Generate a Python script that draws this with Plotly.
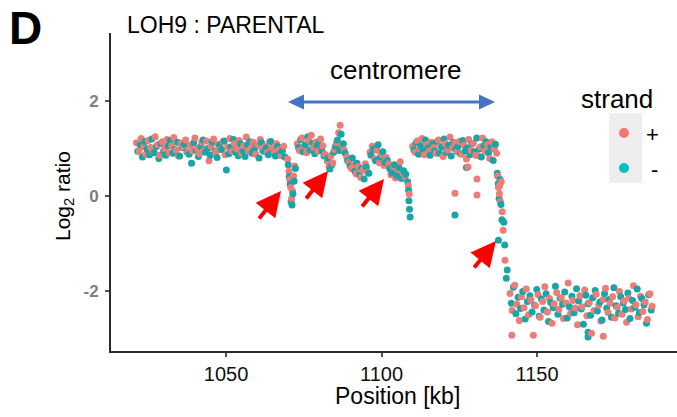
import plotly.graph_objects as go
import pandas as pd

# ---------------- data ----------------
strand_names = ["+", "-"]
strand_colors = ["#EC7E77", "#17A5A8"]

plus_kb = [
    # flanking region left of centromere
    1021.2, 1022.0, 1022.7, 1023.5, 1024.2, 1025.0, 1025.7, 1026.5, 1027.2, 1028.0,
    1028.7, 1029.5, 1030.2, 1031.0, 1031.7, 1032.5, 1033.2, 1034.0, 1034.7, 1035.5,
    1036.2, 1037.0, 1037.7, 1038.5, 1039.2, 1040.0, 1040.7, 1041.5, 1042.2, 1043.0,
    1043.7, 1044.5, 1045.2, 1046.0, 1046.7, 1047.5, 1048.2, 1049.0, 1049.7, 1050.5,
    1051.2, 1052.0, 1052.7, 1053.5, 1054.2, 1055.0, 1055.7, 1056.5, 1057.2, 1058.0,
    1058.7, 1059.5, 1060.2, 1061.0, 1061.7, 1062.5, 1063.2, 1064.0, 1064.7, 1065.5,
    1066.2, 1067.0, 1067.7, 1068.5,
    # first dip
    1069.8, 1070.2, 1070.5, 1070.8, 1071.1, 1071.4, 1071.7, 1072.1,
    1072.9, 1073.6, 1074.4, 1075.1, 1075.9, 1076.6, 1077.4, 1078.1, 1078.9, 1079.6,
    1080.4, 1081.1, 1081.8,
    # second dip
    1082.5, 1083.1, 1083.7, 1084.3, 1084.9,
    1085.5, 1086.2, 1086.7, 1087.3, 1088.0,
    # lowered block
    1088.8, 1089.5, 1090.3, 1091.0, 1091.8, 1092.5, 1093.3, 1094.0, 1094.8, 1095.5,
    1096.3, 1097.0, 1097.8, 1098.5, 1099.3, 1100.0, 1100.8, 1101.5,
    1102.3, 1103.0, 1103.8, 1104.5, 1105.3, 1106.0, 1106.8, 1107.5,
    1108.6, 1108.9,
    # right part of centromere
    1110.0, 1110.8, 1111.5, 1112.3, 1113.0, 1113.8, 1114.5, 1115.3, 1116.0, 1116.8,
    1117.5, 1118.3, 1119.0, 1119.8, 1120.5, 1121.3, 1122.0, 1122.8, 1123.5, 1124.3,
    1125.0, 1125.8, 1126.5, 1127.3, 1128.0, 1128.8, 1129.5, 1130.3, 1131.0, 1131.8,
    1132.5, 1133.3, 1134.0, 1134.8, 1135.5, 1136.3, 1137.0,
    1123.6, 1127.8, 1130.7, 1130.7,
    # breakpoint
    1137.3, 1137.6, 1137.9, 1138.0, 1138.2, 1138.5, 1138.8, 1139.1, 1139.7,
    # LOH region
    1141.3, 1142.0, 1142.8, 1143.5, 1144.3, 1145.0, 1145.8, 1146.5, 1147.3, 1148.0,
    1148.8, 1149.5, 1150.3, 1151.0, 1151.8, 1152.5, 1153.3, 1154.0, 1154.8, 1155.5,
    1156.3, 1157.0, 1157.8, 1158.5, 1159.3, 1160.0, 1160.8, 1161.5, 1162.3, 1163.0,
    1163.8, 1164.5, 1165.3, 1166.0, 1166.8, 1167.5, 1168.3, 1169.0, 1169.8, 1170.5,
    1171.3, 1172.0, 1172.8, 1173.5, 1174.3, 1175.0, 1175.8, 1176.5, 1177.3, 1178.0,
    1178.8, 1179.5, 1180.3, 1181.0, 1181.8, 1182.5, 1183.3, 1184.0, 1184.8, 1185.5,
    1186.3, 1187.0,
    1141.9, 1171.3,
]
plus_log2 = [
    1.12, 0.95, 1.21, 1.04, 0.88, 1.17, 1.02, 0.93, 1.25, 1.08,
    0.86, 1.14, 0.99, 1.19, 0.91, 1.06, 1.23, 0.97, 0.84, 1.11,
    1.03, 1.18, 0.92, 1.07, 0.95, 1.22, 1.00, 0.89, 1.13, 0.96,
    1.16, 0.74, 1.05, 1.20, 0.93, 1.09, 0.98, 1.15, 0.87, 1.03,
    1.21, 0.94, 1.10, 0.99, 1.17, 0.90, 1.06, 1.24, 0.95, 1.01,
    1.13, 0.88, 1.08, 1.19, 0.96, 1.04, 0.91, 1.14, 1.00, 0.93,
    1.10, 0.97, 0.85, 1.05,
    0.78, 0.52, 0.34, 0.18, -0.05, 0.10, 0.42, 0.63,
    1.10, 0.96, 1.22, 1.05, 0.91, 1.17, 1.28, 1.02, 1.13, 0.94,
    1.20, 1.06, 0.88,
    0.74, 0.62, 0.85, 0.70, 0.98,
    1.12, 1.33, 1.49, 1.08, 0.97,
    0.82, 0.71, 0.58, 0.66, 0.47, 0.62, 0.39, 0.55, 0.68, 0.50,
    0.92, 1.05, 0.78, 0.96, 0.70, 0.88, 0.64, 0.81,
    0.68, 0.45, 0.62, 0.38, 0.56, 0.72, 0.49, 0.41,
    0.22, 0.04,
    1.05, 0.92, 1.16, 0.99, 1.21, 0.87, 1.08, 0.95, 1.13, 1.02,
    0.90, 1.18, 1.04, 0.83, 1.10, 0.97, 1.24, 1.01, 1.12, 0.93,
    1.15, 0.88, 1.07, 0.78, 1.19, 0.96, 1.11, 0.86, 0.85, 1.03,
    1.22, 0.94, 1.08, 0.79, 1.14, 0.99, 0.90,
    0.06, 0.61, 0.36, 0.02,
    0.42, 0.18, 0.05, 0.22, -0.12, 0.30, -0.33, -0.72, -1.35,
    -2.05, -2.41, -1.88, -2.28, -2.62, -2.12, -2.35, -1.96, -2.50, -2.19,
    -2.93, -2.31, -2.08, -2.55, -2.22, -1.91, -2.44, -2.16, -2.68, -2.27,
    -2.03, -2.39, -2.14, -2.58, -2.25, -1.83, -2.47, -2.20, -2.36, -2.71,
    -2.10, -2.33, -1.98, -2.52, -2.24, -2.89, -2.41, -2.07, -2.30, -2.63,
    -2.18, -1.94, -2.45, -2.26, -2.12, -2.57, -2.34, -2.01, -2.49, -2.21,
    -2.66, -2.15, -2.38, -1.89, -2.29, -2.54, -2.11, -2.43, -2.23, -2.60,
    -2.06, -2.32,
    -2.93, -2.95,
]

minus_kb = [
    1021.6, 1022.4, 1023.1, 1023.9, 1024.6, 1025.4, 1026.1, 1026.9, 1027.6, 1028.4,
    1029.1, 1029.9, 1030.6, 1031.4, 1032.1, 1032.9, 1033.6, 1034.4, 1035.1, 1035.9,
    1036.6, 1037.4, 1038.1, 1038.9, 1039.6, 1040.4, 1041.1, 1041.9, 1042.6, 1043.4,
    1044.1, 1044.9, 1045.6, 1046.4, 1047.1, 1047.9, 1048.6, 1049.4, 1050.1, 1050.9,
    1051.6, 1052.4, 1053.1, 1053.9, 1054.6, 1055.4, 1056.1, 1056.9, 1057.6, 1058.4,
    1059.1, 1059.9, 1060.6, 1061.4, 1062.1, 1062.9, 1063.6, 1064.4, 1065.1, 1065.9,
    1066.6, 1067.4, 1068.1, 1068.9,
    1070.0, 1070.3, 1070.6, 1070.9, 1071.2, 1071.5, 1071.9, 1072.3,
    1073.3, 1074.0, 1074.8, 1075.5, 1076.3, 1077.0, 1077.8, 1078.5, 1079.3, 1080.0,
    1080.8, 1081.5,
    1082.8, 1083.4, 1084.0, 1084.6,
    1085.2, 1085.8, 1086.5, 1087.0, 1087.7, 1088.3,
    1089.1, 1089.9, 1090.6, 1091.4, 1092.1, 1092.9, 1093.6, 1094.4, 1095.1, 1095.9,
    1096.6, 1097.4, 1098.1, 1098.9, 1099.6, 1100.4, 1101.1,
    1101.9, 1102.6, 1103.4, 1104.1, 1104.9, 1105.6, 1106.4, 1107.1, 1107.8,
    1108.4, 1108.7, 1108.8, 1109.0, 1109.2,
    1110.4, 1111.1, 1111.9, 1112.6, 1113.4, 1114.1, 1114.9, 1115.6, 1116.4, 1117.1,
    1117.9, 1118.6, 1119.4, 1120.1, 1120.9, 1121.6, 1122.4, 1123.1, 1123.9, 1124.6,
    1125.4, 1126.1, 1126.9, 1127.6, 1128.4, 1129.1, 1129.9, 1130.6, 1131.4, 1132.1,
    1132.9, 1133.6, 1134.4, 1135.1, 1135.9, 1136.6,
    1123.6, 1127.3,
    1137.2, 1137.5, 1137.6, 1137.8, 1138.1, 1138.4, 1138.7, 1139.3, 1139.6, 1140.1,
    1140.4,
    1141.7, 1142.4, 1143.2, 1143.9, 1144.7, 1145.4, 1146.2, 1146.9, 1147.7, 1148.4,
    1149.2, 1149.9, 1150.7, 1151.4, 1152.2, 1152.9, 1153.7, 1154.4, 1155.2, 1155.9,
    1156.7, 1157.4, 1158.2, 1158.9, 1159.7, 1160.4, 1161.2, 1161.9, 1162.7, 1163.4,
    1164.2, 1164.9, 1165.7, 1166.4, 1167.2, 1167.9, 1168.7, 1169.4, 1170.2, 1170.9,
    1171.7, 1172.4, 1173.2, 1173.9, 1174.7, 1175.4, 1176.2, 1176.9, 1177.7, 1178.4,
    1179.2, 1179.9, 1180.7, 1181.4, 1182.2, 1182.9, 1183.7, 1184.4, 1185.2, 1185.9,
    1186.7,
    1166.4, 1166.4,
]
minus_log2 = [
    0.94, 1.08, 0.82, 1.15, 0.99, 0.87, 1.20, 0.91, 1.04, 0.79,
    1.11, 0.95, 0.86, 1.06, 1.17, 0.90, 0.98, 1.13, 0.84, 1.02,
    1.09, 0.93, 0.88, 0.69, 1.12, 0.97, 0.83, 1.05, 1.18, 0.92,
    1.00, 0.86, 1.14, 0.95, 0.81, 1.07, 0.98, 1.16, 0.55, 0.89,
    1.03, 1.19, 0.92, 0.85, 1.10, 0.96, 0.83, 1.08, 1.14, 0.90,
    0.97, 1.06, 0.80, 1.12, 0.94, 1.01, 0.87, 1.15, 0.92, 0.84,
    1.04, 0.89, 0.95, 0.82,
    0.66, 0.41, 0.25, -0.12, -0.19, 0.05, 0.31, 0.58,
    1.02, 1.19, 0.93, 1.08, 1.25, 0.97, 1.11, 0.89, 1.06, 1.16,
    0.95, 0.84,
    0.80, 0.57, 0.66, 0.92,
    1.05, 1.18, 0.96, 1.30, 1.10, 0.90,
    0.74, 0.63, 0.80, 0.52, 0.69, 0.44, 0.58, 0.36, 0.61, 0.48,
    0.86, 0.99, 0.74, 1.08, 0.82, 0.93, 0.71,
    0.75, 0.58, 0.49, 0.66, 0.43, 0.60, 0.37, 0.53, 0.46,
    0.30, 0.12, -0.10, -0.28, -0.44,
    0.97, 1.12, 0.88, 1.06, 0.94, 1.18, 1.01, 0.86, 1.09, 0.95,
    1.15, 0.90, 1.03, 1.20, 0.92, 1.07, 0.84, 1.13, 0.98, 1.04,
    0.89, 1.17, 0.95, 1.01, 0.87, 1.10, 0.93, 1.22, 0.99, 0.82,
    1.06, 1.14, 0.91, 1.03, 0.75, 1.09,
    -0.40, 0.60,
    0.48, 0.26, -0.93, -0.05, 0.35, -0.18, -0.50, -0.55, -1.03, -1.73,
    -1.56,
    -2.26, -1.92, -2.48, -2.13, -2.37, -2.01, -2.59, -2.22, -2.10, -2.44,
    -2.30, -1.97, -2.53, -2.17, -2.40, -2.06, -2.64, -2.24, -2.35, -1.90,
    -2.49, -2.15, -2.28, -2.02, -2.57, -2.33, -2.11, -2.46, -1.95, -2.21,
    -2.38, -2.70, -2.09, -2.27, -2.51, -2.14, -1.99, -2.42, -2.23, -2.61,
    -2.05, -2.36, -2.18, -2.55, -1.93, -2.31, -2.47, -2.12, -2.25, -2.39,
    -2.04, -2.58, -2.20, -2.34, -1.96, -2.45, -2.16, -2.29, -2.68, -2.08,
    -2.40,
    -2.97, -2.87,
]

x_ticks = [1050, 1100, 1150]
y_ticks = [-2, 0, 2]

# ---------------- figure ----------------
FONT = "Liberation Sans, Arial, sans-serif"
W, H = 677, 417
L, T, PW, PH = 111, 33, 566, 318


def px(x):
    return (x - L) / PW


def py(y):
    return (T + PH - y) / PH


df = pd.concat([
    pd.DataFrame({"kb": plus_kb, "log2": plus_log2, "strand": strand_names[0]}),
    pd.DataFrame({"kb": minus_kb, "log2": minus_log2, "strand": strand_names[1]}),
])
df = df.sort_values("kb", kind="stable")
cmap = dict(zip(strand_names, strand_colors))

fig = go.Figure()
fig.add_trace(go.Scatter(
    x=df["kb"], y=df["log2"], mode="markers",
    marker=dict(size=7, color=df["strand"].map(cmap), line=dict(width=0)),
    showlegend=False, hoverinfo="skip",
))

axis_common = dict(showgrid=False, zeroline=False, showline=True,
                   linecolor="#2b2b2b", linewidth=2, ticks="outside",
                   ticklen=4, tickwidth=1.5, tickcolor="#555")
fig.update_xaxes(range=[1013.0, 1195.0], tickvals=x_ticks,
                 ticktext=[str(v) for v in x_ticks],
                 tickfont=dict(family=FONT, size=20, color="#111"),
                 ticklabelstandoff=0, **axis_common)
fig.update_yaxes(range=[-3.263, 3.432], tickvals=y_ticks,
                 ticktext=[str(v) for v in y_ticks],
                 tickfont=dict(family=FONT, size=17, color="#7F7F7F", weight="bold"),
                 ticklabelstandoff=3, **axis_common)

ann = []


def text(s, x, y, size, xanchor="center", bold=False, angle=0, color="#000"):
    ann.append(dict(text=s, x=px(x), y=py(y), xref="paper", yref="paper",
                    showarrow=False, xanchor=xanchor, yanchor="middle",
                    textangle=angle,
                    font=dict(family=FONT, size=size, color=color,
                              weight="bold" if bold else "normal")))


text("D", 7, 28, 46, xanchor="left", bold=True)
text("LOH9 : PARENTAL", 125, 25, 23, xanchor="left")
text("centromere", 396, 70, 26)
text("Position [kb]", 397, 396, 23)
text("Log<sub>2</sub> ratio", 64, 196, 21, angle=-90)
text("strand", 617, 99, 26)
text("+", 652, 134, 22)
text("-", 654, 169, 22)

# red arrows: (tip x, tip y, tail dx, tail dy) in pixels
for tx, ty, dx, dy in [(281, 191, -23, 29), (328, 171, -23, 29),
                       (384, 179, -23, 29), (496, 241, -23, 28)]:
    ann.append(dict(x=px(tx), y=py(ty), xref="paper", yref="paper", text="",
                    showarrow=True, ax=dx, ay=dy, arrowhead=2, arrowsize=1.25,
                    arrowwidth=4, arrowcolor="#FF0000", standoff=0))

shapes = []
blue = "#4472C4"
shapes.append(dict(type="line", xref="paper", yref="paper",
                   x0=px(300), x1=px(482), y0=py(102), y1=py(102),
                   line=dict(color=blue, width=3)))
shapes.append(dict(type="path", xref="paper", yref="paper",
                   path=f"M {px(288)} {py(102)} L {px(304)} {py(94.5)} L {px(304)} {py(109.5)} Z",
                   fillcolor=blue, line=dict(width=0)))
shapes.append(dict(type="path", xref="paper", yref="paper",
                   path=f"M {px(495)} {py(102)} L {px(479)} {py(94.5)} L {px(479)} {py(109.5)} Z",
                   fillcolor=blue, line=dict(width=0)))
# legend key background and keys
shapes.append(dict(type="rect", xref="paper", yref="paper",
                   x0=px(609), x1=px(642), y0=py(183), y1=py(113),
                   fillcolor="#EEEEEE", line=dict(width=0), layer="below"))
for (cy, col) in [(133, "#F8766D"), (168, "#00BFC4")]:
    shapes.append(dict(type="circle", xref="paper", yref="paper",
                       x0=px(619), x1=px(629), y0=py(cy + 5), y1=py(cy - 5),
                       fillcolor=col, line=dict(width=0)))

fig.update_layout(width=W, height=H,
                  margin=dict(l=L, r=W - L - PW, t=T, b=H - T - PH),
                  plot_bgcolor="white", paper_bgcolor="white",
                  annotations=ann, shapes=shapes,
                  font=dict(family=FONT))

fig.write_html("out.html", config={"displayModeBar": False},
               post_script="document.body.style.margin='0';document.body.style.overflow='hidden';")
